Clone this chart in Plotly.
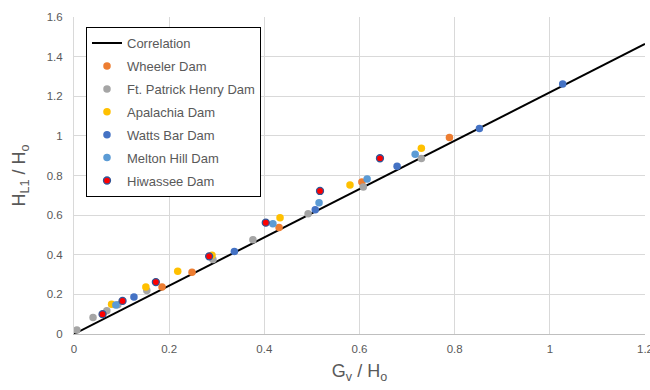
import plotly.graph_objects as go

# Correlation line
corr_x = [0.0, 1.2]
corr_y = [0.0, 1.464]

wheeler_x = [0.185, 0.248, 0.431, 0.605, 0.789]
wheeler_y = [0.237, 0.312, 0.537, 0.767, 0.992]

fph_x = [0.006, 0.040, 0.069, 0.092, 0.153, 0.292, 0.376, 0.492, 0.608, 0.730]
fph_y = [0.020, 0.083, 0.117, 0.148, 0.220, 0.376, 0.476, 0.607, 0.742, 0.886]

apa_x = [0.079, 0.151, 0.218, 0.290, 0.433, 0.580, 0.730]
apa_y = [0.150, 0.237, 0.317, 0.397, 0.587, 0.752, 0.937]

watts_x = [0.126, 0.337, 0.507, 0.679, 0.852, 1.027]
watts_y = [0.187, 0.417, 0.627, 0.847, 1.037, 1.262]

melton_x = [0.088, 0.418, 0.515, 0.616, 0.717]
melton_y = [0.146, 0.557, 0.662, 0.782, 0.907]

hiw_x = [0.060, 0.102, 0.172, 0.284, 0.403, 0.517, 0.643]
hiw_y = [0.100, 0.167, 0.262, 0.392, 0.562, 0.722, 0.887]

x_ticks = [0, 0.2, 0.4, 0.6, 0.8, 1, 1.2]
y_ticks = [0, 0.2, 0.4, 0.6, 0.8, 1, 1.2, 1.4, 1.6]

fig = go.Figure()
fig.add_trace(go.Scatter(x=corr_x, y=corr_y, mode="lines", name="Correlation",
                         line=dict(color="black", width=2), legendgroup="a"))

series = [
    ("Wheeler Dam", wheeler_x, wheeler_y, "#ED7D31", None),
    ("Ft. Patrick Henry Dam", fph_x, fph_y, "#A5A5A5", None),
    ("Apalachia Dam", apa_x, apa_y, "#FFC000", None),
    ("Watts Bar Dam", watts_x, watts_y, "#4472C4", None),
    ("Melton Hill Dam", melton_x, melton_y, "#5B9BD5", None),
    ("Hiwassee Dam", hiw_x, hiw_y, "#FF0000", "#2F5597"),
]
for i, (name, xs, ys, col, outline) in enumerate(series):
    if outline:
        marker = dict(color=col, size=7, line=dict(color=outline, width=1.3))
    else:
        marker = dict(color=col, size=7.5, line=dict(width=0))
    fig.add_trace(go.Scatter(x=xs, y=ys, mode="markers", name=name, marker=marker,
                             legendgroup="g%d" % i, cliponaxis=False))

fam = "Liberation Sans, Arial, sans-serif"
axis_font = dict(family=fam, size=11.5, color="#595959")
fig.update_layout(
    width=650, height=390,
    margin=dict(l=74, r=5, t=17, b=56, autoexpand=False),
    plot_bgcolor="white", paper_bgcolor="white",
    font=axis_font,
    showlegend=True,
    legend=dict(x=0.021, y=0.968, xanchor="left", yanchor="top",
                bordercolor="black", borderwidth=1, bgcolor="white",
                font=dict(family=fam, size=13, color="#595959"),
                traceorder="grouped", tracegroupgap=3, itemwidth=30),
    xaxis=dict(range=[0, 1.2], tickvals=x_ticks, ticktext=[str(v) for v in x_ticks],
               showgrid=True, gridcolor="#D9D9D9", gridwidth=1, automargin=False,
               showline=True, linecolor="#BFBFBF", linewidth=1, zeroline=False,
               ticks="", tickfont=axis_font, ticklabeloverflow="allow",
               ticklabelstandoff=4,
               title=dict(text="G<sub>v</sub> / H<sub>o</sub>",
                          font=dict(family=fam, size=18, color="#595959"),
                          standoff=10)),
    yaxis=dict(range=[0, 1.6], tickvals=y_ticks, ticktext=[str(v) for v in y_ticks],
               showgrid=True, gridcolor="#D9D9D9", gridwidth=1, automargin=False,
               showline=True, linecolor="#D9D9D9", linewidth=1, zeroline=False,
               ticks="", tickfont=axis_font, ticklabeloverflow="allow",
               ticklabelstandoff=8,
               title=dict(text="H<sub>L1</sub> / H<sub>o</sub>",
                          font=dict(family=fam, size=18, color="#595959"),
                          standoff=16)),
)

fig.write_html("out.html", config={"displayModeBar": False},
               post_script="document.body.style.margin='0';")
